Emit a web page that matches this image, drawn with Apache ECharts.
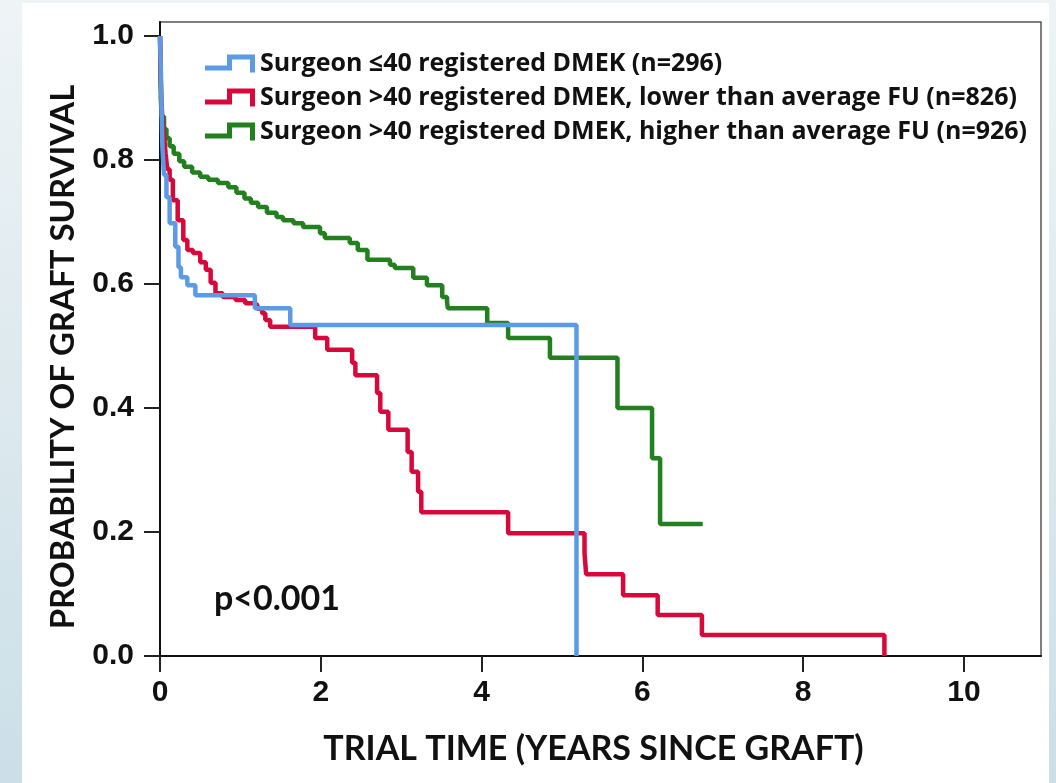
<!DOCTYPE html>
<html>
<head>
<meta charset="utf-8">
<style>
html,body{margin:0;padding:0;}
body{width:1056px;height:783px;overflow:hidden;background:linear-gradient(to bottom,#eef4f6 0%,#dde9ee 50%,#cbdfe8 100%);}
#panel{position:absolute;left:22px;top:3px;width:1027px;height:780px;background:#ffffff;}
#chart{position:absolute;left:0;top:0;width:1056px;height:783px;}
</style>
<script src="https://cdn.jsdelivr.net/npm/echarts@6/dist/echarts.min.js"></script>
</head>
<body>
<div id="panel"></div>
<div id="chart"></div>
<script>
// ---- Data (time in years, survival probability) ----
const seriesNames = [
  'Surgeon \u226440 registered DMEK (n=296)',
  'Surgeon >40 registered DMEK, lower than average FU (n=826)',
  'Surgeon >40 registered DMEK, higher than average FU (n=926)'
];
const blueData = [
  [0,1.0],[0.01,0.95],[0.02,0.88],[0.03,0.82],[0.05,0.776],[0.08,0.74],[0.12,0.698],
  [0.19,0.66],[0.23,0.627],[0.26,0.611],[0.34,0.598],[0.44,0.582],[1.18,0.561],
  [1.62,0.534],[5.18,0]
];
const redData = [
  [0,1.0],[0.005,0.97],[0.01,0.93],[0.02,0.89],[0.03,0.865],[0.05,0.84],[0.07,0.81],
  [0.09,0.785],[0.12,0.768],[0.16,0.735],[0.22,0.703],[0.29,0.671],[0.34,0.655],
  [0.41,0.65],[0.5,0.635],[0.57,0.623],[0.63,0.602],[0.69,0.585],[0.78,0.579],
  [0.94,0.574],[1.06,0.569],[1.18,0.566],[1.21,0.56],[1.27,0.553],[1.31,0.542],
  [1.37,0.531],[1.93,0.513],[2.08,0.494],[2.39,0.473],[2.43,0.453],[2.70,0.424],
  [2.74,0.394],[2.84,0.365],[3.08,0.329],[3.13,0.297],[3.21,0.265],[3.25,0.232],
  [4.33,0.198],[5.28,0.166],[5.30,0.132],[5.76,0.098],[6.19,0.066],[6.74,0.034],
  [9.01,0]
];
const greenData = [
  [0,1.0],[0.005,0.95],[0.01,0.9],[0.02,0.87],[0.05,0.85],[0.08,0.835],[0.12,0.822],
  [0.17,0.81],[0.24,0.798],[0.3,0.789],[0.4,0.78],[0.5,0.773],[0.6,0.768],[0.72,0.763],
  [0.85,0.756],[0.95,0.747],[1.05,0.738],[1.13,0.731],[1.22,0.724],[1.33,0.715],
  [1.45,0.708],[1.53,0.703],[1.66,0.698],[1.78,0.692],[1.99,0.682],[2.05,0.674],
  [2.36,0.666],[2.46,0.655],[2.58,0.639],[2.86,0.631],[2.92,0.626],[3.15,0.61],
  [3.32,0.598],[3.51,0.579],[3.57,0.571],[3.58,0.561],[4.07,0.537],[4.33,0.513],
  [4.85,0.481],[5.69,0.40],[6.12,0.319],[6.22,0.213],[6.75,0.213]
];
const xTicks = [0,2,4,6,8,10];
const yTicks = [0,0.2,0.4,0.6,0.8,1.0];
const pText = 'p<0.001';

const colors = ['#5b9be6','#d8083a','#22801f'];
const stepIcon = 'path://M0,11 L22,11 L22,0 L50,0 L50,18 L45,18 L45,5 L27,5 L27,16 L0,16 Z';

const chart = echarts.init(document.getElementById('chart'));
const tickFont = {fontFamily:'Liberation Sans', fontWeight:'bold', fontSize:30, color:'#111'};
const titleFont = {fontFamily:'Lato', fontWeight:'bold', color:'#111'};
const xNice = {type:'value', min:xTicks[0], max:xTicks[xTicks.length-1], interval:2, splitLine:{show:false}};
const yNice = {type:'value', min:yTicks[0], max:yTicks[yTicks.length-1], interval:0.2, splitLine:{show:false}};
const tickStyle = {show:true, inside:false, length:16, lineStyle:{color:'#222', width:2}};
const tickLine = {show:true, showMinLine:true, showMaxLine:true, lineStyle:{color:'#222', width:2, type:'solid'}};
const option = {
  animation:false,
  backgroundColor:'transparent',
  graphic:[
    {type:'text', left:214, top:582, style:{text:pText, font:'bold 34px Lato', fill:'#111'}}
  ],
  grid:[
    {left:160, top:36, right:92, bottom:127, show:false},
    {left:160, top:22, right:15, bottom:127, show:true, borderColor:'#555', borderWidth:1.5, backgroundColor:'transparent'},
    // thin strip below the x axis: its split lines are the x ticks
    {left:160, top:656, right:92, bottom:111, show:false},
    // thin strip left of the y axis: its split lines are the y ticks
    {left:144, top:36, right:896, bottom:127, show:false}
  ],
  legend:{
    orient:'vertical', left:200, top:46, itemWidth:50, itemHeight:18, itemGap:9,
    textStyle:{fontFamily:'Open Sans', fontWeight:'bold', fontSize:25, color:'#111'},
    data: seriesNames.map((n,i)=>({name:n, icon:stepIcon, itemStyle:{color:colors[i], borderWidth:0}}))
  },
  xAxis:[
    {...xNice, gridIndex:0, position:'bottom', axisLine:{show:true, onZero:false, lineStyle:{color:'#111', width:2}},
      axisTick:tickStyle, axisLabel:{show:false}},
    {gridIndex:1, type:'value', min:0, max:10.95, position:'bottom',
      name:'TRIAL TIME (YEARS SINCE GRAFT)', nameLocation:'middle', nameGap:76,
      nameTextStyle:{...titleFont, fontSize:34, padding:[0,14,0,0]},
      axisLine:{show:true, onZero:false, lineStyle:{color:'#111', width:2}},
      axisTick:{show:false}, axisLabel:{show:false}, splitLine:{show:false}},
    {...xNice, gridIndex:0, position:'bottom', offset:0, axisLine:{show:false, onZero:false},
      axisTick:{show:false}, axisLabel:{show:true, margin:22, formatter:v=>String(v), ...tickFont}},
    {...xNice, gridIndex:2, position:'bottom', axisLine:{show:false}, axisTick:{show:false},
      axisLabel:{show:false}, splitLine:tickLine},
    {type:'value', gridIndex:3, show:false}
  ],
  yAxis:[
    {...yNice, gridIndex:0, position:'left', axisLine:{show:true, onZero:false, lineStyle:{color:'#111', width:2}},
      axisTick:tickStyle, axisLabel:{show:false}},
    {gridIndex:1, type:'value', min:0, max:1.023, position:'left',
      name:'PROBABILITY OF GRAFT SURVIVAL', nameLocation:'middle', nameGap:80,
      nameTextStyle:{...titleFont, fontSize:33, padding:[0,0,0,-36]},
      axisLine:{show:true, onZero:false, lineStyle:{color:'#111', width:2}},
      axisTick:{show:false}, axisLabel:{show:false}, splitLine:{show:false}},
    {...yNice, gridIndex:0, position:'left', offset:0, axisLine:{show:false, onZero:false},
      axisTick:{show:false}, axisLabel:{show:true, margin:26, formatter:v=>v.toFixed(1), ...tickFont}},
    {type:'value', gridIndex:2, show:false},
    {...yNice, gridIndex:3, position:'left', axisLine:{show:false}, axisTick:{show:false},
      axisLabel:{show:false}, splitLine:tickLine}
  ],
  series:[blueData, redData, greenData].map((d,i)=>({
    name:seriesNames[i], type:'line', step:'end', symbol:'none', data:d,
    xAxisIndex:0, yAxisIndex:0, clip:false,
    lineStyle:{color:colors[i], width:4.5}, itemStyle:{color:colors[i]}, z:3-i+2
  }))
};
chart.setOption(option);
</script>
</body>
</html>
